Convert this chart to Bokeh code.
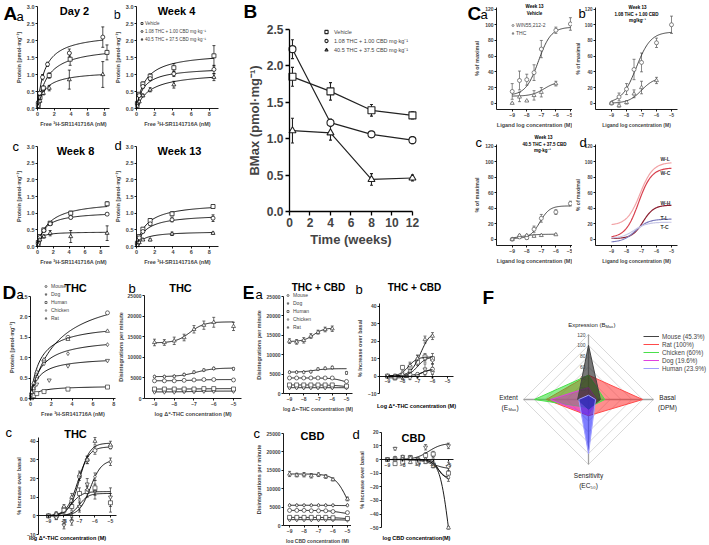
import numpy as np
from bokeh.plotting import figure
from bokeh.layouts import row, column
from bokeh.models import (Label, Range1d, FixedTicker, PrintfTickFormatter, Whisker,
                          TeeHead, ColumnDataSource, Legend, LegendItem)
from bokeh.embed import file_html
from bokeh.resources import INLINE

FONT = "Liberation Sans"

# ======================= DATA =======================
# ---- A: saturation binding (free 3H-SR1141716A, nM -> protein pmol/mg)
A_groups = ["Vehicle", "1.08 THC + 1.00 CBD mg·kg⁻¹", "40.5 THC + 37.5 CBD mg·kg⁻¹"]
A_markers = ["square", "circle", "triangle"]
A_titles = ["Day 2", "Week 4", "Week 8", "Week 13"]

Aa_x = [[0.1, 0.3, 0.7, 1.4, 3.9, 8.3], [0.1, 0.25, 0.6, 1.2, 3.8, 7.8], [0.1, 0.3, 0.7, 1.4, 3.8, 7.8]]
Aa_y = [[0.12, 0.32, 0.6, 0.97, 1.45, 1.65], [0.18, 0.45, 0.92, 1.3, 1.63, 2.1], [0.06, 0.22, 0.45, 0.6, 0.85, 1.0]]
Aa_e = [[0.02, 0.04, 0.06, 0.08, 0.18, 0.22], [0.03, 0.05, 0.08, 0.06, 0.12, 0.3], [0.02, 0.04, 0.05, 0.08, 0.28, 0.38]]
Aa_kd = [1.2, 0.85, 0.9]

Ab_x = [[0.1, 0.3, 0.7, 1.5, 4.1, 8.5], [0.1, 0.3, 0.7, 1.5, 4.1, 8.5], [0.1, 0.3, 0.7, 1.5, 4.1, 8.5]]
Ab_y = [[0.15, 0.42, 0.72, 0.95, 1.2, 1.55], [0.14, 0.38, 0.65, 0.88, 1.02, 1.15], [0.07, 0.2, 0.38, 0.55, 0.7, 0.92]]
Ab_e = [[0.02, 0.04, 0.06, 0.07, 0.12, 0.3], [0.02, 0.03, 0.05, 0.06, 0.08, 0.12], [0.02, 0.03, 0.04, 0.06, 0.1, 0.1]]
Ab_kd = [1.0, 0.8, 1.5]

Ac_x = [[0.1, 0.3, 0.8, 1.6, 4.2, 8.8], [0.1, 0.3, 0.8, 1.6, 4.2, 8.8], [0.1, 0.3, 0.8, 1.6, 4.2, 8.8]]
Ac_y = [[0.12, 0.3, 0.5, 0.7, 1.0, 1.28], [0.1, 0.27, 0.48, 0.68, 0.87, 0.97], [0.05, 0.2, 0.3, 0.4, 0.3, 0.4]]
Ac_e = [[0.02, 0.03, 0.04, 0.05, 0.06, 0.06], [0.02, 0.03, 0.04, 0.04, 0.04, 0.03], [0.02, 0.03, 0.05, 0.08, 0.18, 0.22]]
Ac_kd = [1.4, 0.9, 0.3]

Ad_x = [[0.1, 0.3, 0.7, 1.5, 3.9, 8.4], [0.1, 0.3, 0.7, 1.5, 3.9, 8.4], [0.1, 0.3, 0.7, 1.5, 3.9, 8.4]]
Ad_y = [[0.1, 0.3, 0.52, 0.78, 0.98, 1.2], [0.08, 0.26, 0.45, 0.68, 0.8, 0.85], [0.03, 0.12, 0.2, 0.2, 0.38, 0.4]]
Ad_e = [[0.02, 0.03, 0.04, 0.05, 0.06, 0.04], [0.02, 0.03, 0.04, 0.04, 0.06, 0.1], [0.01, 0.02, 0.02, 0.03, 0.05, 0.03]]
Ad_kd = [1.1, 1.0, 0.8]

# ---- B: Bmax over time
B_weeks = [0.29, 4, 8, 12]
B_bmax = [[1.85, 1.65, 1.39, 1.32], [2.23, 1.22, 1.06, 0.98], [1.11, 1.08, 0.44, 0.46]]
B_err = [[0.13, 0.12, 0.08, 0.05], [0.13, 0.05, 0.04, 0.05], [0.17, 0.10, 0.08, 0.04]]

# ---- C: concentration response (% of maximal)
C_conc = [-9, -8.5, -8, -7.5, -7, -6, -5]
C_thc_conc = [-9, -8.5, -8, -7.5, -7, -6]
Ca_win = [15, 29, 30, 39, 69, 93, 101]
Ca_win_err = [10, 12, 7, 10, 11, 4, 8]
Ca_thc = [0, 8, 3, 10, 14, 25]
Ca_thc_err = [0, 6, 0, 6, 6, 3]
Ca_fit = [[10, 97, -7.2, 1.0], [9, 28, -6.8, 1.0]]
Cb_win = [0, 8, 18, 43, 52, 77, 100]
Cb_win_err = [0, 5, 7, 13, 12, 6, 11]
Cb_thc = [0, -3, 1, 12, 20, 29]
Cb_thc_err = [0, 2, 2, 5, 8, 4]
Cb_fit = [[0, 91, -7.35, 0.9], [0, 33, -7.0, 1.0]]
Cc_win = [0, 3, 2, 13, 27, 35, 46]
Cc_win_err = [0, 2, 2, 4, 5, 3, 3]
Cc_thc = [0, 5, 5, 4, 5, 6]
Cc_thc_err = [0, 1, 1, 1, 1, 1]
Cc_fit = [[1, 43, -7.1, 1.3], [1, 6.5, -8.3, 1.0]]
Cd_names = ["W-L", "W-C", "W-H", "T-L", "T-C"]
Cd_bottom = [18, 2, 1, -4, 1]
Cd_top = [99, 92, 44, 26, 22]
Cd_ec50 = [-7.1, -7.2, -6.9, -7.4, -7.5]
Cd_hill = [1.0, 1.0, 1.2, 1.0, 1.0]
Cd_colors = ["#f2a3a6", "#d8404e", "#8a1c2e", "#7b7bbd", "#c6c6e6"]

# ---- D / E: species comparison
SPECIES = ["Mouse", "Dog", "Human", "Chicken", "Rat"]
SP_MARK = ["circle", "inverted_triangle", "square", "diamond", "triangle"]

Da_x = [[0.1, 0.3, 0.6, 1.3, 3.6, 7.4], [0.1, 0.3, 0.6, 1.8, 3.6, 7.4], [0.1, 0.3, 0.6, 1.3, 3.6, 7.4],
        [0.1, 0.3, 0.6, 1.3, 3.6, 7.4], [0.1, 0.3, 0.6, 1.3, 3.6, 7.4]]
Da_y = [[0.1, 0.28, 0.52, 0.92, 1.5, 2.1], [0.05, 0.2, 0.35, 0.45, 0.8, 0.93], [0.02, 0.07, 0.12, 0.17, 0.23, 0.28],
        [0.08, 0.25, 0.48, 0.85, 1.1, 1.32], [0.15, 0.38, 0.65, 0.95, 1.45, 1.65]]
Da_bmax = [2.75, 1.02, 0.31, 1.5, 1.85]
Da_kd = [2.5, 0.75, 0.7, 1.0, 0.9]

LOG8 = [-9, -8.5, -8, -7.5, -7, -6.5, -6, -5]
Db_y = [[4300, 4300, 4300, 4400, 4500, 4600, 4600, 4500], [1600, 1600, 1600, 1700, 1700, 1800, 1800, 1800],
        [2300, 2300, 2300, 2300, 2300, 2400, 2400, 2300], [5300, 5300, 5400, 5800, 6400, 6900, 7300, 7200],
        [13600, 13600, 14000, 14800, 16800, 17800, 18500, 17500]]
Db_err = [[200] * 8, [150] * 8, [150] * 8, [200, 200, 200, 250, 250, 250, 250, 250],
          [800, 700, 900, 800, 900, 1000, 1200, 1000]]
Db_fit = [[4300, 4600, -7.0, 1.0], [1600, 1800, -7.0, 1.0], [2300, 2400, -6.5, 1.0],
          [5300, 7400, -6.9, 1.0], [13500, 18600, -7.2, 1.2]]

Dc_y = [[0, 1, 4, 8, 21, 30, 35, 37], [0, -1, -5, -3, 5, 17, 13, 10], [0, 0, 3, 5, 12, 13, 15, 7],
        [0, -1, -3, 0, 5, 14, 21, 29], [0, 1, 5, 10, 22, 30, 40, 38]]
Dc_err = [[0, 1, 1, 2, 2, 2, 2, 1], [0, 1, 2, 2, 3, 3, 4, 5], [0, 1, 2, 2, 3, 3, 4, 5],
          [0, 1, 1, 2, 2, 2, 2, 2], [0, 1, 1, 2, 2, 2, 2, 2]]
Dc_fit = [[0, 37, -7.1, 1.2], [0, 12, -7.0, 1.5], [0, 13, -7.5, 1.3], [0, 30, -6.3, 1.2], [0, 39, -7.0, 1.3]]

Ea_x = [LOG8, LOG8, LOG8, LOG8, [-9, -8.5, -8, -7.5, -7, -6.5, -6]]
Ea_y = [[4000, 4000, 4000, 4000, 4000, 4000, 4000, 3100], [1500] * 8,
        [2200, 2200, 2200, 2200, 2200, 2200, 2200, 1900], [5500, 5500, 5500, 5600, 6300, 6500, 6700, 5300],
        [13500, 13300, 13700, 14800, 15800, 16500, 16700]]
Ea_err = [[200] * 8, [150] * 8, [150] * 8, [200, 200, 200, 200, 250, 250, 300, 300],
          [600, 600, 700, 600, 500, 600, 700]]
Ea_fit = [[4000, 2000, -5.05, 1.0], [1500, 1500, -7.0, 1.0], [2200, 1600, -5.3, 1.0],
          [5500, 6400, -7.3, 1.0], [13400, 16900, -7.3, 1.2]]

Eb_x = [-9, -8.5, -8, -7.5, -7, -6.5, -6]
Eb_y = [[0, 0, 0, 1, 1, 2, 4], [0, -1, -1, -1, 0, 4, 2], [0, -1, 5, 5, 8, 11, 10],
        [0, 0, 2, 6, 10, 10, 9], [0, -1, 1, 3, 10, 21, 23]]
Eb_err = [[0, 1, 1, 1, 1, 2, 3], [0, 1, 1, 1, 1, 3, 3], [0, 1, 1, 2, 2, 2, 3],
          [0, 1, 1, 2, 2, 2, 2], [0, 1, 1, 2, 2, 2, 2]]
Eb_fit = [[0, 5, -6.5, 1.0], [-1, 4, -6.8, 1.5], [0, 11, -7.0, 1.5], [0, 11, -7.6, 1.5], [0, 26, -6.8, 1.3]]

Ec_y = [[4100, 4100, 4100, 4000, 4000, 4000, 3800, 3500], [1600, 1600, 1600, 1600, 1600, 1600, 1600, 1500],
        [2200, 2200, 2200, 2200, 2200, 2200, 2100, 1900], [5500] * 8,
        [14000, 13700, 13800, 13500, 13800, 13300, 12500, 7200]]
Ec_err = [[150] * 8, [150] * 8, [150] * 8, [150] * 8, [700, 500, 600, 600, 500, 500, 400, 500]]
Ec_fit = [[4100, 3000, -5.5, 1.0], [1600, 1450, -5.5, 1.0], [2200, 1700, -5.3, 1.0],
          [5500, 5400, -6.0, 1.0], [14000, 0, -5.0, 1.0]]

Ed_y = [[0, 1, 1, 1, 0, -1, -3, -5], [0, 8, 2, 2, 0, 9, 3, 10], [0, -3, -2, 1, -2, 3, 4, -10],
        [0, 1, 2, 1, 0, 0, -4, -13], [0, 0, 0, -2, -3, -2, -5, -50]]
Ed_err = [[0, 1, 1, 1, 1, 1, 2, 3], [0, 1, 1, 1, 1, 2, 2, 2], [0, 1, 1, 1, 1, 2, 2, 4],
          [0, 1, 1, 1, 1, 1, 2, 3], [0, 1, 1, 1, 1, 1, 1, 1]]
Ed_fit = [[0, -7, -6.0, 1.0], [0, 12, -6.3, 1.0], [0, -13, -5.7, 2.5], [0, -16, -5.6, 1.5], [0, -100, -5.0, 1.5]]

# ---- F: radar (top, right, bottom, left)
F_axes = ["Expression", "Basal", "Sensitivity", "Extent"]
F_names = ["Mouse (45.3%)", "Rat (100%)", "Chicken (60%)", "Dog (19.6%)", "Human (23.9%)"]
F_values = [[100, 22, 18, 20], [45, 100, 30, 78], [45, 30, 15, 100], [22, 15, 28, 70], [8, 13, 100, 18]]
F_fill = ["#1e1e1e", "#ff1e1e", "#1edc1e", "#dc1edc", "#2828ff"]
F_line = ["#444444", "#ff4a4a", "#4ae04a", "#e040e0", "#a0a0ff"]
F_alpha = [0.6, 0.5, 0.5, 0.45, 0.6]
F_draw_order = [1, 2, 3, 0, 4]
F_levels = [20, 40, 60, 80, 100, 120]


# ======================= HELPERS =======================
def sig(x, b, t, ec, h):
    return b + (t - b) / (1 + 10 ** ((ec - x) * h))


def hyp(x, bmax, kd):
    return bmax * x / (kd + x)


class Panel:
    """Figure whose frame covers the whole canvas; axes are fixed at the data box edges."""
    def __init__(self, ox, oy, w, h, fx, fy, fw, fh, xr, yr, xfix=None, axes=True):
        self.ox, self.oy, self.w, self.h = ox, oy, w, h
        sx = fw / (xr[1] - xr[0])
        sy = fh / (yr[1] - yr[0])
        X0 = xr[0] - (fx - ox) / sx
        X1 = xr[1] + (ox + w - fx - fw) / sx
        Y1 = yr[1] + (fy - oy) / sy
        Y0 = yr[0] - (oy + h - fy - fh) / sy
        self.X0, self.X1, self.Y0, self.Y1 = X0, X1, Y0, Y1
        p = figure(width=w, height=h, x_range=Range1d(X0, X1), y_range=Range1d(Y0, Y1),
                   min_border=0, output_backend="svg", toolbar_location=None)
        p.outline_line_color = None
        p.grid.visible = False
        if axes:
            p.xaxis.fixed_location = yr[0] if xfix is None else xfix
            p.yaxis.fixed_location = xr[0]
            p.xaxis.bounds = tuple(xr)
            p.yaxis.bounds = tuple(yr)
        else:
            p.xaxis.visible = False
            p.yaxis.visible = False
        self.p = p

    def dx(self, X):
        return self.X0 + (X - self.ox) / self.w * (self.X1 - self.X0)

    def dy(self, Y):
        return self.Y1 - (Y - self.oy) / self.h * (self.Y1 - self.Y0)

    def text(self, X, Y, s, size=6, bold=False, align="center", base="middle", angle=0, color="black"):
        self.p.add_layout(Label(x=self.dx(X), y=self.dy(Y), text=s, text_font=FONT,
                                text_font_size=f"{size}px", text_font_style="bold" if bold else "normal",
                                text_align=align, text_baseline=base, angle=angle, text_color=color))


def style_axes(P, xticks, yticks, xlabel, ylabel, fs=5.5, lfs=5.5, yfmt=None, tick=2):
    p = P.p
    p.xaxis.ticker = FixedTicker(ticks=xticks)
    p.yaxis.ticker = FixedTicker(ticks=yticks)
    if yfmt:
        p.yaxis.formatter = PrintfTickFormatter(format=yfmt)
    if xlabel:
        p.xaxis.axis_label = xlabel
    if ylabel:
        p.yaxis.axis_label = ylabel
    for ax in p.axis:
        ax.axis_line_color = "black"
        ax.axis_line_width = 0.9
        ax.major_tick_line_width = 0.9
        ax.major_tick_in = 0
        ax.major_tick_out = tick
        ax.minor_tick_in = 0
        ax.minor_tick_out = 0
        ax.major_label_text_font = FONT
        ax.major_label_text_font_size = f"{fs}px"
        ax.major_label_text_font_style = "bold"
        ax.axis_label_text_font = FONT
        ax.axis_label_text_font_size = f"{lfs}px"
        ax.axis_label_text_font_style = "bold"
        ax.major_label_standoff = 1
        ax.axis_label_standoff = 2


def series(P, x, y, e=None, marker="circle", size=4, color="black", lw=0.7):
    p = P.p
    if e is not None:
        src = ColumnDataSource(dict(x=list(x), lo=[a - b for a, b in zip(y, e)], hi=[a + b for a, b in zip(y, e)]))
        p.add_layout(Whisker(source=src, base="x", lower="lo", upper="hi", line_color=color, line_width=lw,
                             upper_head=TeeHead(size=3, line_color=color, line_width=lw),
                             lower_head=TeeHead(size=3, line_color=color, line_width=lw)))
    return p.scatter(x, y, marker=marker, size=size, fill_color="white", line_color=color, line_width=lw)


def legend(P, items, X, Y, row_h, fs, glyph_w=6, standoff=2, bold=False):
    n = len(items)
    lg = Legend(items=[LegendItem(label=l, renderers=[r]) for l, r in items],
                location=(int(round(X - P.ox)), int(round((P.oy + P.h) - (Y + n * row_h)))),
                orientation="vertical", padding=0, margin=0, spacing=0,
                glyph_width=glyph_w, glyph_height=row_h, label_height=row_h, label_width=10,
                label_standoff=standoff, label_text_font=FONT, label_text_font_size=f"{fs}px",
                label_text_font_style="bold" if bold else "normal",
                border_line_color=None, background_fill_alpha=0)
    P.p.add_layout(lg)


# ======================= PANEL A =======================
A_specs = [
    (Aa_x, Aa_y, Aa_e, Aa_kd, (0, 0, 114, 138, 37, 6, 72, 102, (0, 8.6))),
    (Ab_x, Ab_y, Ab_e, Ab_kd, (114, 0, 126, 138, 136, 6, 82, 102, (0, 9.0))),
    (Ac_x, Ac_y, Ac_e, Ac_kd, (0, 138, 114, 134, 37, 146, 72, 100, (0, 9.1))),
    (Ad_x, Ad_y, Ad_e, Ad_kd, (114, 138, 126, 134, 136, 146, 82, 100, (0, 9.0))),
]
A_panels = []
for k, (xs, ys, es, kds, g) in enumerate(A_specs):
    ox, oy, w, h, fx, fy, fw, fh, xr = g
    P = Panel(ox, oy, w, h, fx, fy, fw, fh, xr, (0, 3.0))
    style_axes(P, [0, 2, 4, 6, 8], [0, 0.5, 1.0, 1.5, 2.0, 2.5, 3.0],
               "Free ³H-SR1141716A (nM)", "Protein [pmol·mg⁻¹]", yfmt="%.1f")
    rs = []
    for gi in range(3):
        xx = np.linspace(0, max(xs[gi]), 80)
        P.p.line(xx, hyp(xx, B_bmax[gi][k], kds[gi]), line_color="black", line_width=0.9)
        rs.append(series(P, xs[gi], ys[gi], es[gi], marker=A_markers[gi], size=4))
    A_panels.append((P, rs))

Pa, rs = A_panels[0]
Pa.text(3, 12.5, "A", size=19, bold=True, align="left")
Pa.text(16, 15.5, "a", size=13, align="left")
Pa.text(74, 10, A_titles[0], size=11, bold=True)
Pb, rs = A_panels[1]
Pb.text(113, 14, "b", size=13, align="left")
Pb.text(176, 10, A_titles[1], size=11, bold=True)
legend(Pb, [(A_groups[i], rs[i]) for i in range(3)], 139, 19, 8, 4.5, glyph_w=5, standoff=1)
Pc, rs = A_panels[2]
Pc.text(12, 146, "c", size=13, align="left")
Pc.text(75, 150, A_titles[2], size=11, bold=True)
Pd, rs = A_panels[3]
Pd.text(114, 145, "d", size=13, align="left")
Pd.text(179, 150, A_titles[3], size=11, bold=True)

# ======================= PANEL B =======================
PB = Panel(240, 0, 180, 272, 289, 29, 125, 182, (0, 12.2), (0, 2.5))
style_axes(PB, [0, 2, 4, 6, 8, 10, 12], [0, 0.5, 1.0, 1.5, 2.0, 2.5], "Time (weeks)", "BMax (pmol·mg⁻¹)",
           fs=12, lfs=13, yfmt="%.1f", tick=4)
PB.p.axis.axis_line_width = 1.3
PB.p.axis.major_tick_line_width = 1.3
PB.p.axis.major_label_standoff = 2
PB.p.xaxis.bounds = (0, 12)
B_rs = []
for gi in range(3):
    PB.p.line(B_weeks, B_bmax[gi], line_color="#222222", line_width=1.2)
    B_rs.append(series(PB, B_weeks, B_bmax[gi], B_err[gi], marker=A_markers[gi], size=7, color="#222222", lw=1.1))
PB.text(243, 11, "B", size=19, bold=True, align="left")
legend(PB, [(A_groups[i], B_rs[i]) for i in range(3)], 322, 27, 9, 5.5, glyph_w=8, standoff=4)

# ======================= PANEL C =======================
C_geo = [(420, 0, 152, 133, 496, 7, 78, 102), (572, 0, 135, 133, 595, 7, 82, 102),
         (420, 133, 152, 139, 496, 144, 78, 101), (572, 133, 135, 139, 595, 144, 82, 101)]
C_panels = []
for gi, g in enumerate(C_geo):
    left = gi % 2 == 0
    xr = (-10.08, -4.72) if left else (-10.07, -4.6)
    P = Panel(*g, xr, (-8, 122))
    style_axes(P, [-9, -8, -7, -6, -5], [0, 20, 40, 60, 80, 100, 120],
               "Ligand log concentration (M)", "% of maximal", fs=5 if left else 4.6, lfs=5.5 if left else 5)
    if not left:
        P.p.yaxis.axis_label_standoff = 1
    C_panels.append(P)

CGRAY = "#333333"
for P, win, win_e, thc, thc_e, fit in [(C_panels[0], Ca_win, Ca_win_err, Ca_thc, Ca_thc_err, Ca_fit),
                                       (C_panels[1], Cb_win, Cb_win_err, Cb_thc, Cb_thc_err, Cb_fit),
                                       (C_panels[2], Cc_win, Cc_win_err, Cc_thc, Cc_thc_err, Cc_fit)]:
    xx = np.linspace(-9, -5, 80)
    P.p.line(xx, sig(xx, *fit[0]), line_color=CGRAY, line_width=0.9)
    xx2 = np.linspace(-9, -6, 60)
    P.p.line(xx2, sig(xx2, *fit[1]), line_color=CGRAY, line_width=0.9)
    r1 = series(P, C_conc, win, win_e, marker="circle", size=4, color="#555555")
    r2 = series(P, C_thc_conc, thc, thc_e, marker="triangle", size=4, color="#555555")
    if P is C_panels[0]:
        legend(P, [("WIN55,212-2", r1), ("THC", r2)], 510, 21, 8, 5, glyph_w=5, standoff=1)

Ca, Cb, Cc, Cd = C_panels
Ca.text(467, 12.5, "C", size=19, bold=True, align="left")
Ca.text(480, 14, "a", size=13, align="left")
Ca.text(534, 6, "Week 13", size=4.5, bold=True)
Ca.text(534, 13, "Vehicle", size=4.5, bold=True)
Cb.text(578, 13, "b", size=13, align="left")
Cb.text(637, 7, "Week 13", size=4.5, bold=True)
Cb.text(636, 14, "1.08 THC + 1.00 CBD", size=4.5, bold=True)
Cb.text(637, 20, "mg/kg⁻¹", size=4.5, bold=True)
Cc.text(475, 142, "c", size=13, align="left")
Cc.text(543, 137, "Week 13", size=4.5, bold=True)
Cc.text(544, 143.5, "40.5 THC + 37.5 CBD", size=4.5, bold=True)
Cc.text(542, 150, "mg·kg⁻¹", size=4.5, bold=True)
Cd.text(579, 142, "d", size=13, align="left")
xx = np.linspace(-9, -5, 80)
for i in range(5):
    Cd.p.line(xx, sig(xx, Cd_bottom[i], Cd_top[i], Cd_ec50[i], Cd_hill[i]), line_color=Cd_colors[i], line_width=1.2)
for name, Y in zip(Cd_names, [158, 172, 202, 217, 226]):
    Cd.text(660, Y, name, size=5, bold=True, align="left", color="#333333")

# ======================= PANEL D =======================
Da = Panel(0, 272, 116, 152, 30, 296, 85, 102, (0, 8.17), (0, 2.5))
style_axes(Da, [0, 2, 4, 6, 8], [0, 0.5, 1.0, 1.5, 2.0, 2.5], "Free ³H-SR141716A (nM)",
           "Protein [pmol·mg⁻¹]", yfmt="%.1f")
Da_rs = []
for i in range(5):
    xx = np.linspace(0, max(Da_x[i]), 80)
    Da.p.line(xx, hyp(xx, Da_bmax[i], Da_kd[i]), line_color="black", line_width=0.9)
    Da_rs.append(series(Da, Da_x[i], Da_y[i], None, marker=SP_MARK[i], size=4, color="#333333"))
legend(Da, [(SPECIES[i], Da_rs[i]) for i in range(5)], 43, 282, 8, 5, glyph_w=5, standoff=3)
Da.text(2, 292, "D", size=19, bold=True, align="left")
Da.text(16, 294, "a", size=13, align="left")
Da.text(75, 287, "THC", size=11, bold=True)

Db = Panel(116, 272, 127, 152, 144, 295, 97, 103, (-9.506, -4.595), (0, 25000))
style_axes(Db, [-9, -8, -7, -6, -5], [0, 5000, 10000, 15000, 20000, 25000],
           "log Δ⁹-THC concentration (M)", "Disintegrations per minute", fs=5, lfs=5.5)
Db.p.yaxis.axis_label_standoff = 1
for i in range(5):
    xx = np.linspace(-9, -5, 80)
    Db.p.line(xx, sig(xx, *Db_fit[i]), line_color="black", line_width=0.9)
    series(Db, LOG8, Db_y[i], Db_err[i], marker=SP_MARK[i], size=4, color="#333333")
Db.text(128, 288, "b", size=13, align="left")
Db.text(180, 287, "THC", size=11, bold=True)

Dc = Panel(0, 424, 243, 119, 38, 437, 78, 97, (-9.645, -4.61), (-10, 42), xfix=0)
style_axes(Dc, [-9, -8, -7, -6, -5], [-10, 0, 10, 20, 30, 40], None, "% Increase over basal", fs=5, lfs=5.5)
for i in range(5):
    xx = np.linspace(-9, -5, 80)
    Dc.p.line(xx, sig(xx, *Dc_fit[i]), line_color="black", line_width=0.9)
    series(Dc, LOG8, Dc_y[i], Dc_err[i], marker=SP_MARK[i], size=4, color="#333333")
Dc.text(5, 432, "c", size=13, align="left")
Dc.text(75, 433, "THC", size=11, bold=True)
Dc.text(67, 537, "log Δ⁹-THC concentration (M)", size=5.5, bold=True)

# ======================= PANEL E =======================
Ea = Panel(243, 272, 110, 152, 283, 296, 69, 97, (-9.42, -4.58), (0, 25000))
style_axes(Ea, [-9, -8, -7, -6, -5], [0, 5000, 10000, 15000, 20000, 25000],
           "log Δ⁹-THC concentration (M)", "Disintegrations per minute", fs=5, lfs=5.5)
Ea.p.xaxis.axis_label_text_font_size = "5px"
Ea_rs = []
for i in range(5):
    xx = np.linspace(-9, max(Ea_x[i]), 80)
    Ea.p.line(xx, sig(xx, *Ea_fit[i]), line_color="black", line_width=0.9)
    Ea_rs.append(series(Ea, Ea_x[i], Ea_y[i], Ea_err[i], marker=SP_MARK[i], size=4, color="#333333"))
legend(Ea, [(SPECIES[i], Ea_rs[i]) for i in range(5)], 285, 291, 8, 5, glyph_w=5, standoff=3)
Ea.text(242, 292, "E", size=18, bold=True, align="left")
Ea.text(255, 294, "a", size=13, align="left")
Ea.text(318, 287, "THC + CBD", size=10, bold=True)

Eb = Panel(353, 272, 126, 152, 379, 302.5, 74, 90.5, (-9.533, -4.6), (-10, 42), xfix=0)
style_axes(Eb, [-9, -8, -7, -6, -5], [-10, 0, 10, 20, 30, 40], None, "% Increase over basal", fs=5, lfs=5.5)
for i in range(5):
    xx = np.linspace(-9, -6, 60)
    Eb.p.line(xx, sig(xx, *Eb_fit[i]), line_color="black", line_width=0.9)
    series(Eb, Eb_x, Eb_y[i], Eb_err[i], marker=SP_MARK[i], size=4, color="#444444")
Eb.text(355, 289, "b", size=13, align="left")
Eb.text(414, 287, "THC + CBD", size=10, bold=True)
Eb.text(416, 405, "Log Δ⁹-THC concentration (M)", size=5.5, bold=True)

Ec = Panel(243, 424, 108, 119, 283, 433, 69, 92, (-9.42, -4.65), (0, 25000))
style_axes(Ec, [-9, -8, -7, -6, -5], [0, 5000, 10000, 15000, 20000, 25000],
           "log CBD concentration (M)", "Disintegrations per minute", fs=5, lfs=5.5)
Ec.p.xaxis.axis_label_text_font_size = "5px"
for i in range(5):
    xx = np.linspace(-9, -5, 80)
    Ec.p.line(xx, sig(xx, *Ec_fit[i]), line_color="black", line_width=0.9)
    series(Ec, LOG8, Ec_y[i], Ec_err[i], marker=SP_MARK[i], size=4, color="#333333")
Ec.text(253, 433, "c", size=13, align="left")
Ec.text(312, 435, "CBD", size=11, bold=True)

Ed = Panel(351, 424, 128, 119, 381, 429, 72, 101, (-9.39, -4.67), (-52, 22), xfix=0)
style_axes(Ed, [-9, -8, -7, -6, -5], [-50, -40, -30, -20, -10, 0, 10, 20], None,
           "% Increase over basal", fs=5, lfs=5.5)
Ed.p.yaxis.bounds = (-50, 20)
for i in range(5):
    xx = np.linspace(-9, -5, 80)
    Ed.p.line(xx, sig(xx, *Ed_fit[i]), line_color="black", line_width=0.9)
    series(Ed, LOG8, Ed_y[i], Ed_err[i], marker=SP_MARK[i], size=4, color="#444444")
Ed.text(352, 434, "d", size=13, align="left")
Ed.text(413, 437, "CBD", size=11, bold=True)
Ed.text(416, 537, "log CBD concentration(M)", size=5.5, bold=True)

# ======================= PANEL F (radar) =======================
FS = 65 / 120.0
PF = Panel(479, 272, 228, 271, 479, 272, 228, 271,
           ((479 - 588) / FS, (707 - 588) / FS), (-(543 - 399) / FS, (399 - 272) / FS), axes=False)
gx = [[0, L, 0, -L, 0] for L in F_levels]
gy = [[L, 0, -L, 0, L] for L in F_levels]
PF.p.multi_line(gx, gy, line_color="#cfcfcf", line_width=0.8)
top = max(F_levels)
PF.p.multi_line([[0, 0], [0, top], [0, 0], [0, -top]], [[0, top], [0, 0], [0, -top], [0, 0]],
                line_color="#a0a0a0", line_width=1.3)
F_rs = [None] * 5
for i in F_draw_order:
    t, r, b, l = F_values[i]
    PF.p.patch([0, r, 0, -l], [t, 0, -b, 0], fill_color=F_fill[i], fill_alpha=F_alpha[i], line_color=None)
    F_rs[i] = PF.p.line([0, r, 0, -l, 0], [t, 0, -b, 0, t], line_color=F_line[i], line_width=1)
for L in F_levels:
    PF.text(585, 399 - L * FS, str(L), size=5, align="right", color="#444444")
legend(PF, [(F_names[i], F_rs[i]) for i in range(5)], 643, 332, 8, 6.3, glyph_w=16, standoff=3)
PF.text(482, 297, "F", size=19, bold=True, align="left")
PF.text(605, 324, "Expression (B", size=6, align="right", color="#222222")
PF.text(605, 326, "Max", size=4, align="left", color="#222222")
PF.text(613, 324, ")", size=6, align="left", color="#222222")
PF.text(667, 397, "Basal", size=6.5, color="#222222")
PF.text(667, 407, "(DPM)", size=6.5, color="#222222")
PF.text(508, 397, "Extent", size=6.5, color="#222222")
PF.text(501, 407, "(E", size=6.5, align="left", color="#222222")
PF.text(508, 409, "Max", size=4, align="left", color="#222222")
PF.text(516, 407, ")", size=6.5, align="left", color="#222222")
PF.text(588, 475, "Sensitivity", size=6.5, color="#222222")
PF.text(588, 485, "(EC₅₀)", size=6.5, color="#222222")

# ======================= LAYOUT =======================
A_block = column(row(A_panels[0][0].p, A_panels[1][0].p), row(A_panels[2][0].p, A_panels[3][0].p))
C_block = column(row(Ca.p, Cb.p), row(Cc.p, Cd.p))
top_row = row(A_block, PB.p, C_block)
D_block = column(row(Da.p, Db.p), Dc.p)
E_block = column(row(Ea.p, Eb.p), row(Ec.p, Ed.p))
bottom_row = row(D_block, E_block, PF.p)
page = column(top_row, bottom_row)

open("out.html", "w").write(file_html(page, INLINE))
